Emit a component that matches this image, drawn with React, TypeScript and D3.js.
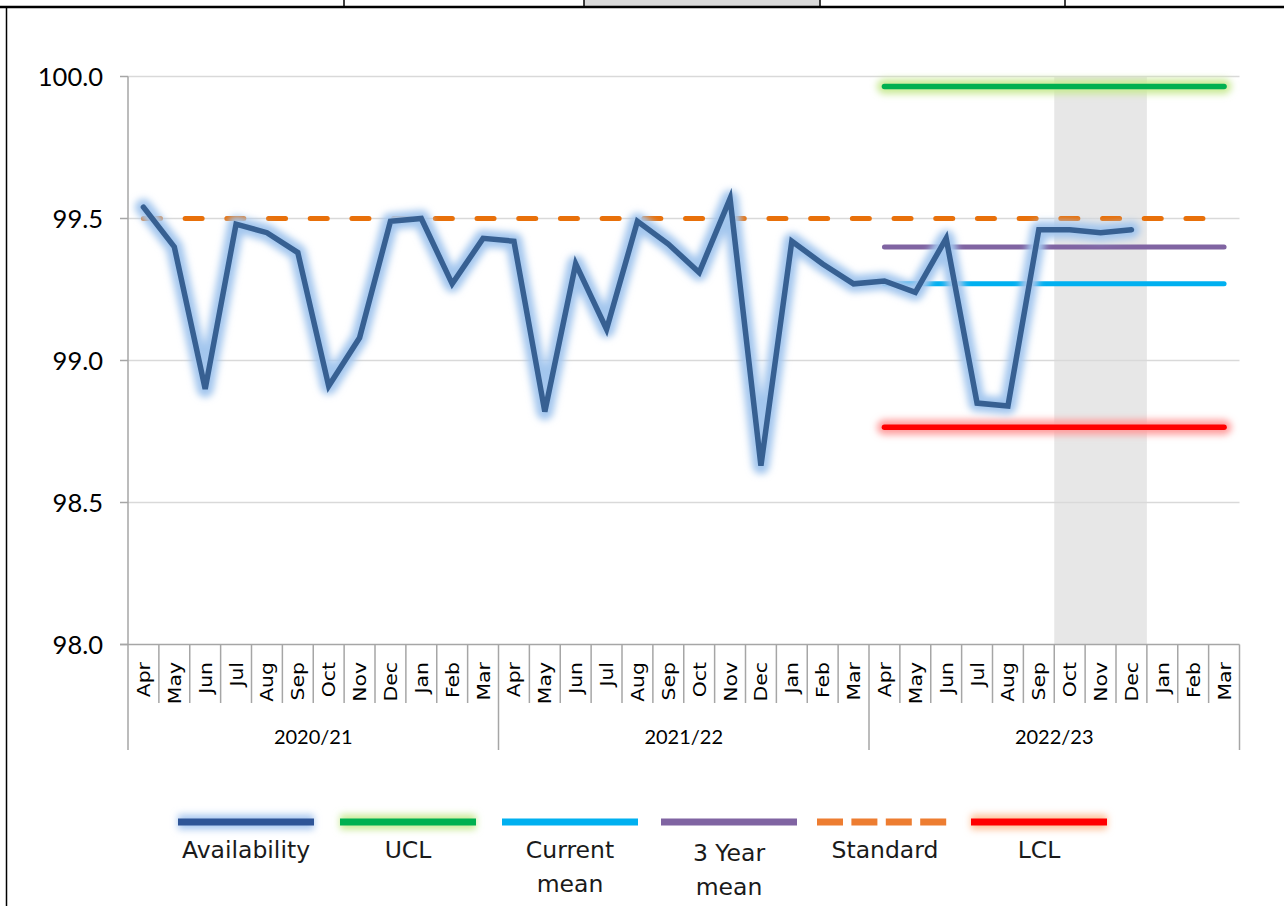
import React from "react";
import * as d3 from "d3";

const months = ["Apr","May","Jun","Jul","Aug","Sep","Oct","Nov","Dec","Jan","Feb","Mar"];
const years = ["2020/21", "2021/22", "2022/23"];
const categories = years.flatMap((yr) => months.map((m) => `${m} ${yr}`));
const availability = [
  99.54, 99.40, 98.90, 99.48, 99.45, 99.38, 98.91, 99.08, 99.49, 99.50, 99.27, 99.43,
  99.42, 98.82, 99.34, 99.11, 99.49, 99.41, 99.31, 99.57, 98.63, 99.42, 99.34, 99.27,
  99.28, 99.24, 99.43, 98.85, 98.84, 99.46, 99.46, 99.45, 99.46,
];
const standard = 99.5;
const ucl = 99.965;
const lcl = 98.765;
const currentMean = 99.27;
const threeYearMean = 99.40;
const controlStart = 24; // Apr 2022/23
const shadedStart = 30; // Oct 2022/23
const shadedEnd = 32; // Dec 2022/23
const yTicks = [98.0, 98.5, 99.0, 99.5, 100.0];
const legendItems = [
  { key: "avail", label: ["Availability"] },
  { key: "ucl", label: ["UCL"] },
  { key: "cur", label: ["Current", "mean"] },
  { key: "three", label: ["3 Year", "mean"] },
  { key: "std", label: ["Standard"] },
  { key: "lcl", label: ["LCL"] },
];

const W = 1284;
const H = 906;
const FONT = "Lato, 'Open Sans', sans-serif";
const LEGEND_FONT = "'DejaVu Sans', Verdana, sans-serif";
const LEGEND_STARTS = [178, 340, 502, 661, 817, 971];
const LEGEND_LEN = 136;

export default function App() {
  const x = d3.scaleBand<number>().domain(d3.range(categories.length)).range([128, 1239.5]).padding(0);
  const bw = x.bandwidth();
  const cx = (i: number) => (x(i) as number) + bw / 2;
  const y = d3.scaleLinear().domain([98, 100]).range([644.5, 76.5]);
  const line = d3.line<number>().x((_, i) => cx(i)).y((d) => y(d));
  const lastIdx = categories.length - 1;
  const hLine = (v: number, from: number) =>
    `M${cx(from)},${y(v)}L${cx(lastIdx)},${y(v)}`;

  return (
    <svg width={W} height={H} style={{ position: "absolute", left: 0, top: 0, background: "#fff" }} fontFamily={FONT}>
      <defs>
        <filter id="glow" filterUnits="userSpaceOnUse" x={0} y={0} width={W} height={H}>
          <feGaussianBlur stdDeviation="3.5" />
        </filter>
      </defs>
      {/* top table fragment */}
      <rect x={584} y={0} width={236} height={6} fill="#D9D9D9" />
      {[344, 584, 820, 1065].map((vx) => (
        <line key={vx} x1={vx} x2={vx} y1={0} y2={7} stroke="#000" strokeWidth={1.5} />
      ))}
      <line x1={0} x2={W} y1={7} y2={7} stroke="#000" strokeWidth={2.5} />
      <line x1={6.5} x2={6.5} y1={7} y2={H} stroke="#000" strokeWidth={1.5} />

      {/* shaded band */}
      <rect x={x(shadedStart)} y={y(100)} width={bw * (shadedEnd - shadedStart + 1)} height={y(98) - y(100)} fill="#E7E7E7" />

      {/* gridlines */}
      {yTicks.filter((t) => t !== 98).map((t) => (
        <line key={t} x1={128} x2={1239.5} y1={y(t)} y2={y(t)} stroke="#D9D9D9" strokeWidth={1.5} />
      ))}
      {/* y axis */}
      <line x1={128} x2={128} y1={y(100)} y2={y(98)} stroke="#A6A6A6" strokeWidth={1.5} />
      {yTicks.map((t) => (
        <g key={t}>
          <line x1={120} x2={128} y1={y(t)} y2={y(t)} stroke="#A6A6A6" strokeWidth={1.5} />
          <text x={103} y={y(t)} dy="0.36em" textAnchor="end" fontSize={25.5} fill="#000">{t.toFixed(1)}</text>
        </g>
      ))}
      {/* x axis */}
      <line x1={120} x2={1239.5} y1={y(98)} y2={y(98)} stroke="#A6A6A6" strokeWidth={1.5} />
      {d3.range(categories.length + 1).map((i) => {
        const bx = i === categories.length ? 1239.5 : (x(i) as number);
        const isYear = i % 12 === 0;
        return <line key={i} x1={bx} x2={bx} y1={y(98)} y2={isYear ? 750 : 703} stroke="#A6A6A6" strokeWidth={1.5} />;
      })}
      {categories.map((c, i) => (
        <text key={c} transform={`translate(${cx(i) + 6.5},${662}) rotate(-90) scale(1.2,1)`} textAnchor="end" fontSize={17} fontFamily={LEGEND_FONT} fill="#000">
          {months[i % 12]}
        </text>
      ))}
      {years.map((yr, k) => (
        <text key={yr} x={((x(k * 12) as number) + (k === 2 ? 1239.5 : (x(k * 12 + 12) as number))) / 2} y={744} textAnchor="middle" fontSize={20} fill="#000">
          {yr}
        </text>
      ))}

      {/* control lines */}
      <path d={hLine(ucl, controlStart)} stroke="#C9EA95" strokeWidth={15} strokeLinecap="round" filter="url(#glow)" />
      <path d={hLine(ucl, controlStart)} stroke="#00B050" strokeWidth={5.5} strokeLinecap="round" />
      <path d={hLine(lcl, controlStart)} stroke="#FF9C9C" strokeWidth={15} strokeLinecap="round" filter="url(#glow)" />
      <path d={hLine(lcl, controlStart)} stroke="#FF0000" strokeWidth={5.5} strokeLinecap="round" />
      <path d={hLine(threeYearMean, controlStart)} stroke="#8064A2" strokeWidth={5} strokeLinecap="round" />
      <path d={hLine(currentMean, controlStart)} stroke="#00B0F0" strokeWidth={5} strokeLinecap="round" />
      <path d={hLine(standard, 0)} stroke="#E8700A" strokeWidth={5} strokeLinecap="round" strokeDasharray="17 24.7" />

      {/* availability */}
      <path d={line(availability) as string} fill="none" stroke="#A3C6EE" strokeWidth={17} strokeLinejoin="round" strokeLinecap="round" filter="url(#glow)" />
      <path d={line(availability) as string} fill="none" stroke="#376092" strokeWidth={5.5} strokeLinejoin="miter" strokeLinecap="round" />

      {/* legend */}
      {legendItems.map((it, k) => {
        const x0 = LEGEND_STARTS[k];
        const x1 = x0 + LEGEND_LEN;
        const mid = (x0 + x1) / 2;
        const ly = 822;
        let marks: React.ReactNode = null;
        if (it.key === "avail") {
          marks = (<>
            <line x1={x0} x2={x1} y1={ly} y2={ly} stroke="#A9C8F0" strokeWidth={15} filter="url(#glow)" />
            <line x1={x0} x2={x1} y1={ly} y2={ly} stroke="#2F5597" strokeWidth={7} />
          </>);
        } else if (it.key === "ucl") {
          marks = (<>
            <line x1={x0} x2={x1} y1={ly} y2={ly} stroke="#C9EA95" strokeWidth={15} filter="url(#glow)" />
            <line x1={x0} x2={x1} y1={ly} y2={ly} stroke="#00B050" strokeWidth={7} />
          </>);
        } else if (it.key === "cur") {
          marks = <line x1={x0} x2={x1} y1={ly} y2={ly} stroke="#00B0F0" strokeWidth={7} />;
        } else if (it.key === "three") {
          marks = <line x1={x0} x2={x1} y1={ly} y2={ly} stroke="#8064A2" strokeWidth={7} />;
        } else if (it.key === "std") {
          marks = <line x1={x0} x2={x1} y1={ly} y2={ly} stroke="#ED7D31" strokeWidth={7} strokeDasharray="26 8.4" />;
        } else {
          marks = (<>
            <line x1={x0} x2={x1} y1={ly} y2={ly} stroke="#FDC29A" strokeWidth={15} filter="url(#glow)" />
            <line x1={x0} x2={x1} y1={ly} y2={ly} stroke="#FF0000" strokeWidth={7} />
          </>);
        }
        return (
          <g key={it.key}>
            {marks}
            {it.label.map((t, j) => (
              <text key={j} x={mid} y={(it.key === "three" ? 861 : 858) + j * 34} textAnchor="middle" fontSize={23.5} fontFamily={LEGEND_FONT} fill="#1a1a1a">
                {t}
              </text>
            ))}
          </g>
        );
      })}
    </svg>
  );
}
